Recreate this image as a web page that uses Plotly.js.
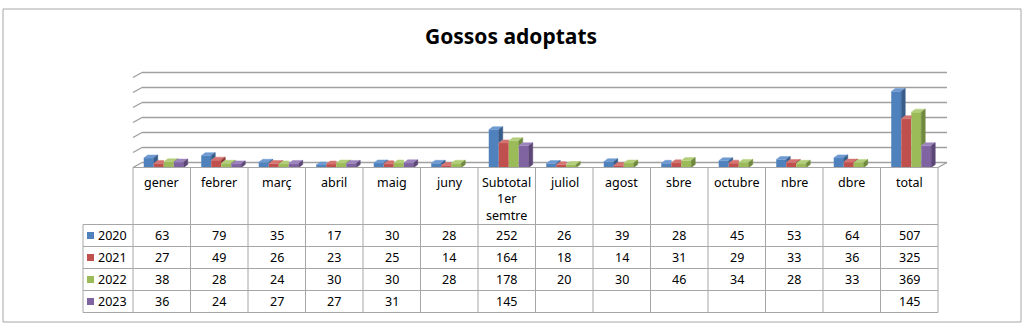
<!DOCTYPE html>
<html>
<head>
<meta charset="utf-8">
<script src="https://cdn.plot.ly/plotly-3.0.1.min.js"></script>
<style>html,body{margin:0;padding:0;background:#fff;}#chart{width:1028px;height:328px;}</style>
</head>
<body>
<div id="chart"></div>
<script>
// ---------- data ----------
const categories = ['gener','febrer','març','abril','maig','juny','Subtotal<br>1er<br>semtre','juliol','agost','sbre','octubre','nbre','dbre','total'];
const years = ['2020','2021','2022','2023'];
const y2020 = [63, 79, 35, 17, 30, 28, 252, 26, 39, 28, 45, 53, 64, 507];
const y2021 = [27, 49, 26, 23, 25, 14, 164, 18, 14, 31, 29, 33, 36, 325];
const y2022 = [38, 28, 24, 30, 30, 28, 178, 20, 30, 46, 34, 28, 33, 369];
const y2023 = [36, 24, 27, 27, 31, null, 145, null, null, null, null, null, null, 145];
const gridValues = [0, 100, 200, 300, 400, 500, 600];

// ---------- styling / geometry ----------
const W = 1028, H = 328;
const colPx = 57.5, x0Px = 133, yZeroPx = 167.5, pxPerVal = 0.15;
const frontCol = ['#4F81BD', '#C0504D', '#9BBB59', '#8064A2'];
const topCol   = ['#6E9AD1', '#D47370', '#B2CE7A', '#9C84BD'];
const sideCol  = ['#385D8A', '#8C3836', '#71893F', '#5C4776'];
const gridCol = '#A0A0A0', tableCol = '#A6A6A6';
const FONT = 'Noto Sans, Open Sans, sans-serif';

const series = [y2020, y2021, y2022, y2023];
const X = categories.map((_, i) => i);
const xRange = [-0.5 - x0Px / colPx, -0.5 + (W - x0Px) / colPx];
const yRange = [-(H - yZeroPx) / pxPerVal, yZeroPx / pxPerVal];
const ux = px => -0.5 + (px - x0Px) / colPx;   // pixel -> x data
const py = p => 1 - p / H;                      // pixel -> paper y
const BW = 10 / colPx;                          // bar width
const OFF = [-18, -8, 2, 12].map(p => p / colPx);
const DX = 4 / colPx, DY = 3 / pxPerVal;        // bar depth
const FDX = 9 / colPx, FDY = 5 / pxPerVal;      // wall depth

const traces = [];
// front faces as bars
series.forEach((s, k) => {
  traces.push({
    type: 'bar', x: X, y: s, width: BW, offset: OFF[k], name: years[k],
    marker: {color: frontCol[k], line: {width: 0}}, showlegend: false, hoverinfo: 'skip'
  });
});
// top & side faces
series.forEach((s, k) => {
  const tx = [], ty = [], sx = [], sy = [];
  s.forEach((v, i) => {
    if (v == null) return;
    const xl = i + OFF[k], xr = xl + BW;
    const nxt = k < series.length - 1 ? series[k + 1][i] : null;
    const nb = nxt == null ? 0 : nxt;
    if (nb > v) {
      tx.push(xl, xr, xr, xl + DX, xl, null); ty.push(v, v, v + DY, v + DY, v, null);
    } else {
      tx.push(xl, xr, xr + DX, xl + DX, xl, null); ty.push(v, v, v + DY, v + DY, v, null);
      sx.push(xr, xr, xr + DX, xr + DX, xr, null); sy.push(nb, v, v + DY, nb + DY, nb, null);
    }
  });
  traces.push({type: 'scatter', mode: 'lines', x: tx, y: ty, fill: 'toself', fillcolor: topCol[k],
    line: {color: topCol[k], width: 0.5}, showlegend: false, hoverinfo: 'skip'});
  traces.push({type: 'scatter', mode: 'lines', x: sx, y: sy, fill: 'toself', fillcolor: sideCol[k],
    line: {color: sideCol[k], width: 0.5}, showlegend: false, hoverinfo: 'skip'});
});

const shapes = [];
// back-wall gridlines with perspective slant
const xFirst = -0.5, xLast = categories.length - 0.5;
gridValues.forEach(v => {
  shapes.push({type: 'line', layer: 'below', xref: 'x', yref: 'y', x0: xFirst + FDX, x1: xLast + FDX, y0: v + FDY, y1: v + FDY, line: {color: gridCol, width: 1.4}});
  shapes.push({type: 'line', layer: 'below', xref: 'x', yref: 'y', x0: xFirst, x1: xFirst + FDX, y0: v, y1: v + FDY, line: {color: gridCol, width: 1.4}});
});
shapes.push({type: 'line', layer: 'below', xref: 'x', yref: 'y', x0: xLast, x1: xLast + FDX, y0: 0, y1: FDY, line: {color: gridCol, width: 1.4}});

// data table
const headTop = 167.5, headBot = 224.5, rowH = 22;
const rowTops = years.map((_, r) => headBot + r * rowH);
const tableBot = headBot + years.length * rowH;
const legLeft = ux(83);
shapes.push({type: 'line', xref: 'x', yref: 'paper', x0: xFirst, x1: xLast, y0: py(headTop), y1: py(headTop), line: {color: tableCol, width: 1}});
[headBot, ...rowTops.slice(1), tableBot].forEach(p => {
  shapes.push({type: 'line', xref: 'x', yref: 'paper', x0: legLeft, x1: xLast, y0: py(p), y1: py(p), line: {color: tableCol, width: 1}});
});
for (let i = 0; i <= categories.length; i++) {
  shapes.push({type: 'line', xref: 'x', yref: 'paper', x0: i - 0.5, x1: i - 0.5, y0: py(headTop), y1: py(tableBot), line: {color: tableCol, width: 1}});
}
shapes.push({type: 'line', xref: 'x', yref: 'paper', x0: legLeft, x1: legLeft, y0: py(headBot), y1: py(tableBot), line: {color: tableCol, width: 1}});
// legend keys
years.forEach((yr, r) => {
  const c = rowTops[r] + rowH / 2;
  shapes.push({type: 'rect', xref: 'x', yref: 'paper', x0: ux(87), x1: ux(94), y0: py(c + 3.5), y1: py(c - 3.5), fillcolor: frontCol[r], line: {width: 0}});
});
// outer chart border
shapes.push({type: 'rect', xref: 'paper', yref: 'paper', x0: 3 / W, x1: 1021 / W, y0: py(322), y1: py(9), line: {color: '#A6A6A6', width: 1}});

const annotations = [];
const cellFont = {family: FONT, size: 12.5, color: '#000'};
categories.forEach((c, i) => {
  c.split('<br>').forEach((line, j) => {
    annotations.push({xref: 'x', yref: 'paper', x: i, y: py(182 + j * 16.5), xanchor: 'center', yanchor: 'middle', text: line, showarrow: false, font: cellFont});
  });
});
years.forEach((yr, r) => {
  const c = rowTops[r] + rowH / 2;
  annotations.push({xref: 'x', yref: 'paper', x: ux(96), y: py(c), xanchor: 'left', yanchor: 'middle', text: yr, showarrow: false, font: cellFont});
  series[r].forEach((v, i) => {
    if (v == null) return;
    annotations.push({xref: 'x', yref: 'paper', x: i, y: py(c), xanchor: 'center', yanchor: 'middle', text: String(v), showarrow: false, font: cellFont});
  });
});

const layout = {
  width: W, height: H, margin: {l: 0, r: 0, t: 0, b: 0},
  paper_bgcolor: '#fff', plot_bgcolor: 'rgba(0,0,0,0)',
  title: {text: '<b>Gossos adoptats</b>', x: 511 / W, y: py(37), xref: 'paper', yref: 'paper', xanchor: 'center', yanchor: 'middle',
    font: {family: FONT, size: 21, color: '#000'}},
  barmode: 'overlay', showlegend: false, hovermode: false,
  xaxis: {range: xRange, domain: [0, 1], visible: false, fixedrange: true},
  yaxis: {range: yRange, domain: [0, 1], visible: false, fixedrange: true},
  shapes: shapes, annotations: annotations
};
Plotly.newPlot('chart', traces, layout, {displayModeBar: false, staticPlot: true});
</script>
</body>
</html>
